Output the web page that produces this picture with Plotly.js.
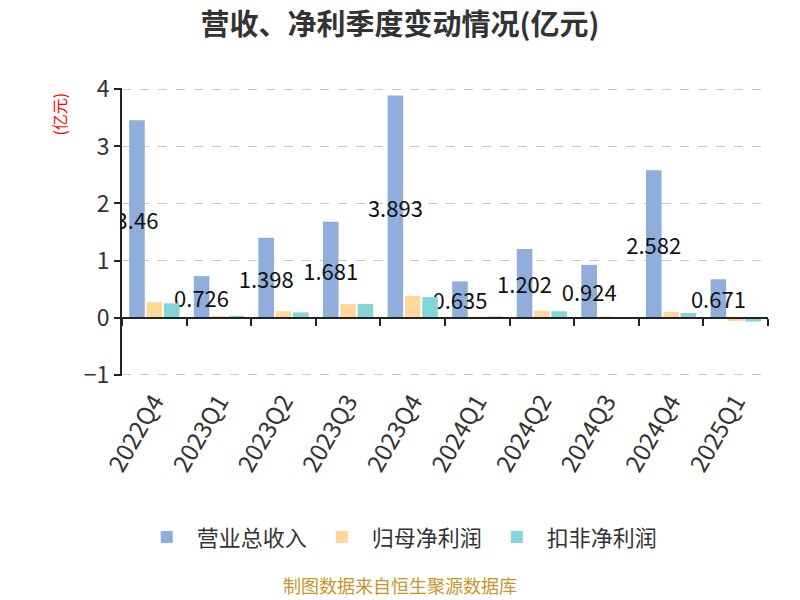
<!DOCTYPE html>
<html>
<head>
<meta charset="utf-8">
<script src="https://cdn.plot.ly/plotly-3.0.1.min.js"></script>
<style>html,body{margin:0;padding:0;background:#fff;}#chart{width:800px;height:600px;}</style>
</head>
<body>
<div id="chart"></div>
<script>
const categories = ['2022Q4','2023Q1','2023Q2','2023Q3','2023Q4','2024Q1','2024Q2','2024Q3','2024Q4','2025Q1'];
const revenue = [3.46, 0.726, 1.398, 1.681, 3.893, 0.635, 1.202, 0.924, 2.582, 0.671];
const netProfit = [0.27, 0.03, 0.11, 0.24, 0.38, 0.02, 0.12, 0.02, 0.10, -0.06];
const deductedProfit = [0.25, 0.03, 0.09, 0.24, 0.36, 0.02, 0.11, 0.00, 0.08, -0.07];
const seriesNames = ['营业总收入', '归母净利润', '扣非净利润'];
const revenueLabels = revenue.map(v => String(v));

const FONT = '"Noto Sans CJK SC", "Noto Sans", sans-serif';

const traces = [
  {type:'bar', name:seriesNames[0], x:categories, y:revenue, marker:{color:'#8FAEDC'},
   text:revenueLabels, textposition:'inside', insidetextanchor:'middle', textangle:0,
   constraintext:'none', insidetextfont:{size:22, color:'#111', family:FONT},
   hoverinfo:'skip'},
  {type:'bar', name:seriesNames[1], x:categories, y:netProfit, marker:{color:'#FDD89A'}, hoverinfo:'skip'},
  {type:'bar', name:seriesNames[2], x:categories, y:deductedProfit, marker:{color:'#84D4D8'}, hoverinfo:'skip'},
  {type:'scatter', mode:'markers', x:categories, y:categories.map(() => null), xaxis:'x2',
   showlegend:false, hoverinfo:'skip', marker:{opacity:0}}
];

const layout = {
  width:800, height:600,
  margin:{l:122, r:32, t:88, b:224},
  paper_bgcolor:'#fff', plot_bgcolor:'#fff',
  font:{family:FONT, color:'#333'},
  title:{text:'营收、净利季度变动情况(亿元)', x:0.5, xanchor:'center', y:0.958, yanchor:'middle',
         font:{size:29, color:'#333', family:FONT, weight:'bold'}},
  barmode:'group', bargap:0.195, bargroupgap:0.1,
  xaxis:{type:'category', range:[-0.5, 9.5], showline:false, ticks:'', showgrid:false, zeroline:false,
         tickangle:-60, tickfont:{size:24, color:'#333', family:FONT}, ticklabelstandoff:6},
  xaxis2:{type:'category', overlaying:'x', anchor:'free', position:0.2, range:[-0.5, 9.5],
          showline:true, linecolor:'#222', linewidth:2, ticks:'outside', tickson:'boundaries',
          ticklen:7, tickcolor:'#222', tickwidth:2, showticklabels:false, showgrid:false, zeroline:false},
  yaxis:{range:[-1.025, 4.025], dtick:1, tick0:0, showline:true, linecolor:'#222', linewidth:2,
         ticks:'outside', ticklen:6, tickcolor:'#222', tickwidth:2,
         showgrid:true, gridcolor:'#c8c8c8', griddash:'dash', gridwidth:1.5, zeroline:false,
         tickfont:{size:23, color:'#333', family:FONT}},
  legend:{orientation:'h', x:0.43, xanchor:'center', y:-0.56, yanchor:'middle',
          font:{size:22, color:'#333', family:FONT}, itemwidth:50, traceorder:'normal'},
  annotations:[
    {text:'(亿元)', xref:'paper', yref:'paper', x:-0.098, y:0.91, textangle:-90, showarrow:false,
     font:{size:16, color:'#ff0000', family:FONT}, xanchor:'center', yanchor:'middle'},
    {text:'制图数据来自恒生聚源数据库', xref:'paper', yref:'paper', x:0.43, y:-0.725, xanchor:'center', yanchor:'middle',
     showarrow:false, font:{size:18, color:'#C8962A', family:FONT}}
  ]
};

Plotly.newPlot('chart', traces, layout, {staticPlot:true});
</script>
</body>
</html>
